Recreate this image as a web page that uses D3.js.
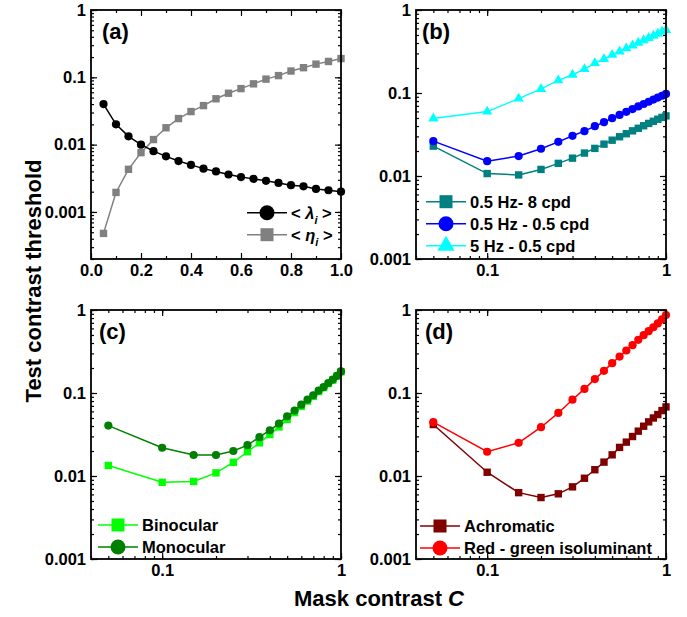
<!DOCTYPE html>
<html>
<head>
<meta charset="utf-8">
<script src="https://cdn.jsdelivr.net/npm/d3@7"></script>
<style>
  body { margin: 0; background: #fff; }
  svg text { font-family: "Liberation Sans", Arial, sans-serif; font-weight: bold; fill: #000; }
</style>
</head>
<body>
<div id="chart"></div>
<script>
// mask contrast C, shared by all four panels
const maskContrast = [0.05, 0.10, 0.15, 0.20, 0.25, 0.30, 0.35, 0.40, 0.45, 0.50,
  0.55, 0.60, 0.65, 0.70, 0.75, 0.80, 0.85, 0.90, 0.95, 1.00];

// (a)
const lambdaMean = [0.040, 0.020, 0.0133, 0.0100, 0.0080, 0.0067, 0.0057, 0.0050, 0.0044, 0.0040,
  0.0036, 0.0033, 0.0031, 0.0029, 0.0027, 0.0025, 0.0024, 0.0022, 0.0021, 0.0020];
const etaMean = [0.00048, 0.00195, 0.0043, 0.0076, 0.0119, 0.0178, 0.0244, 0.031, 0.038, 0.048,
  0.058, 0.068, 0.080, 0.094, 0.106, 0.124, 0.139, 0.157, 0.172, 0.190];

// (b)
const hz05cpd8 = [0.0229, 0.0107, 0.0103, 0.0120, 0.0142, 0.0164, 0.0189, 0.0215, 0.0242, 0.0270,
  0.0297, 0.0323, 0.0350, 0.0376, 0.0403, 0.0430, 0.0456, 0.0483, 0.0508, 0.0530];
const hz05cpd05 = [0.0263, 0.0151, 0.0174, 0.0213, 0.0258, 0.0305, 0.0347, 0.0398, 0.0445, 0.0497,
  0.0545, 0.0593, 0.0641, 0.0690, 0.0737, 0.0785, 0.0833, 0.0880, 0.0927, 0.0975];
const hz5cpd05 = [0.0492, 0.0597, 0.0855, 0.112, 0.142, 0.166, 0.194, 0.229, 0.256, 0.288,
  0.316, 0.345, 0.374, 0.403, 0.432, 0.460, 0.489, 0.518, 0.546, 0.575];

// (c)
const binocular = [0.0134, 0.0084, 0.0086, 0.0109, 0.0146, 0.0196, 0.0251, 0.0316, 0.0390, 0.0480,
  0.058, 0.069, 0.080, 0.091, 0.104, 0.116, 0.130, 0.143, 0.160, 0.180];
const monocular = [0.0405, 0.0219, 0.0179, 0.0179, 0.0200, 0.0235, 0.0294, 0.0356, 0.0428, 0.0525,
  0.0614, 0.0724, 0.083, 0.094, 0.107, 0.118, 0.132, 0.145, 0.161, 0.182];

// (d)
const achromatic = [0.0417, 0.0111, 0.0063, 0.0055, 0.0061, 0.0074, 0.0094, 0.0119, 0.0147, 0.0180,
  0.0221, 0.0256, 0.0299, 0.0347, 0.0398, 0.0449, 0.050, 0.055, 0.0614, 0.068];
const redGreen = [0.0445, 0.0196, 0.0251, 0.0387, 0.0575, 0.083, 0.112, 0.147, 0.185, 0.229,
  0.275, 0.325, 0.377, 0.437, 0.497, 0.555, 0.620, 0.690, 0.770, 0.870];

// tick labels
const yMajorTicks = [0.001, 0.01, 0.1, 1];
const xLogTicks = [0.1, 1];
const xLinTicks = [0, 0.2, 0.4, 0.6, 0.8, 1.0];

const W = 687, H = 617;
const svg = d3.select("#chart").append("svg").attr("width", W).attr("height", H);

const pw = 250, ph = 249;

const symbolFor = {
  circle: (big) => d3.symbol(d3.symbolCircle, big ? Math.PI * 7.5 * 7.5 : Math.PI * 4.1 * 4.1),
  square: (big) => d3.symbol(d3.symbolSquare, big ? 13 * 13 : 7.4 * 7.4),
  triangle: (big) => d3.symbol(d3.symbolTriangle, big ? 130 : 46)
};

const logFmt = d => (d >= 1 ? "1" : String(d));

function panel(cfg) {
  const g = svg.append("g").attr("transform", `translate(${cfg.left},${cfg.top})`);
  const x = cfg.x, y = cfg.y;

  // ticks, all four sides, pointing inward
  const minorX = cfg.xMinor, minorY = y.ticks();
  g.append("g").attr("transform", `translate(0,${ph})`)
    .call(d3.axisBottom(x).tickValues(minorX).tickSize(-3).tickSizeOuter(0).tickFormat(""));
  g.append("g").call(d3.axisTop(x).tickValues(minorX).tickSize(-3).tickSizeOuter(0).tickFormat(""));
  g.append("g").call(d3.axisLeft(y).tickValues(minorY).tickSize(-3).tickSizeOuter(0).tickFormat(""));
  g.append("g").attr("transform", `translate(${pw},0)`)
    .call(d3.axisRight(y).tickValues(minorY).tickSize(-3).tickSizeOuter(0).tickFormat(""));

  const xb = g.append("g").attr("transform", `translate(0,${ph})`)
    .call(d3.axisBottom(x).tickValues(cfg.xTicks).tickSize(-6).tickSizeOuter(0).tickPadding(5).tickFormat(cfg.xFormat));
  g.append("g").call(d3.axisTop(x).tickValues(cfg.xTicks).tickSize(-6).tickSizeOuter(0).tickFormat(""));
  const yl = g.append("g")
    .call(d3.axisLeft(y).tickValues(yMajorTicks).tickSize(-6).tickSizeOuter(0).tickPadding(5).tickFormat(logFmt));
  g.append("g").attr("transform", `translate(${pw},0)`)
    .call(d3.axisRight(y).tickValues(yMajorTicks).tickSize(-6).tickSizeOuter(0).tickFormat(""));

  g.selectAll(".domain").remove();
  g.selectAll(".tick line").attr("stroke", "#000").attr("stroke-width", 1.2);
  [xb, yl].forEach(a => a.selectAll("text").style("font-size", "16.5px").attr("fill", "#000"));

  // series
  const line = d3.line().x(d => x(d[0])).y(d => y(d[1]));
  cfg.series.forEach(s => {
    const pts = maskContrast.map((c, i) => [c, s.values[i]]);
    g.append("path").datum(pts).attr("fill", "none").attr("stroke", s.color)
      .attr("stroke-width", 1.5).attr("d", line);
    g.selectAll(null).data(pts).enter().append("path")
      .attr("d", symbolFor[s.shape](false))
      .attr("transform", d => `translate(${x(d[0])},${y(d[1])})`)
      .attr("fill", s.color);
  });

  // frame
  g.append("rect").attr("width", pw).attr("height", ph)
    .attr("fill", "none").attr("stroke", "#000").attr("stroke-width", 1.8);

  // panel label
  g.append("text").attr("x", cfg.labelX).attr("y", 29).style("font-size", "22px").text(cfg.label);

  // legend
  cfg.legendOrder.forEach((si, k) => {
    const s = cfg.series[si];
    const ly = cfg.legendY + k * 22;
    g.append("line").attr("x1", cfg.legendX).attr("x2", cfg.legendX + 40)
      .attr("y1", ly).attr("y2", ly).attr("stroke", s.color).attr("stroke-width", 1.5);
    g.append("path").attr("d", symbolFor[s.shape](true))
      .attr("transform", `translate(${cfg.legendX + 20},${ly})`).attr("fill", s.color);
    const t = g.append("text").attr("x", cfg.legendX + 44).attr("y", ly + 6).style("font-size", "16.5px");
    if (s.greek) {
      t.append("tspan").text("< ");
      t.append("tspan").style("font-style", "italic").text(s.greek);
      t.append("tspan").style("font-style", "italic").style("font-size", "11px").attr("dy", 5).text("i");
      t.append("tspan").attr("dy", -5).text(" >");
    } else {
      t.text(s.name);
    }
  });
}

const logX = () => d3.scaleLog().domain([0.04, 1]).range([0, pw]);
const logY = () => d3.scaleLog().domain([0.001, 1]).range([ph, 0]);
const logXMinor = logX().ticks();
const fmtLogX = d => (d >= 1 ? "1" : "0.1");

panel({
  left: 91, top: 10, label: "(a)", labelX: 11,
  x: d3.scaleLinear().domain([0, 1]).range([0, pw]),
  y: d3.scaleLog().domain([0.0002, 1]).range([ph, 0]),
  xTicks: xLinTicks, xMinor: d3.range(0.1, 1, 0.2), xFormat: d3.format(".1f"),
  series: [
    { greek: "η", color: "#808080", shape: "square", values: etaMean },
    { greek: "λ", color: "#000000", shape: "circle", values: lambdaMean }
  ],
  legendOrder: [1, 0], legendX: 156, legendY: 202.7
});

panel({
  left: 416, top: 10, label: "(b)", labelX: 6,
  x: logX(), y: logY(), xTicks: xLogTicks, xMinor: logXMinor, xFormat: fmtLogX,
  series: [
    { name: "0.5 Hz- 8 cpd", color: "#008080", shape: "square", values: hz05cpd8 },
    { name: "0.5 Hz - 0.5 cpd", color: "#0000ff", shape: "circle", values: hz05cpd05 },
    { name: "5 Hz - 0.5 cpd", color: "#00ffff", shape: "triangle", values: hz5cpd05 }
  ],
  legendOrder: [0, 1, 2], legendX: 10, legendY: 191.7
});

panel({
  left: 91, top: 310, label: "(c)", labelX: 8,
  x: logX(), y: logY(), xTicks: xLogTicks, xMinor: logXMinor, xFormat: fmtLogX,
  series: [
    { name: "Binocular", color: "#00ff00", shape: "square", values: binocular },
    { name: "Monocular", color: "#008000", shape: "circle", values: monocular }
  ],
  legendOrder: [0, 1], legendX: 7, legendY: 215
});

panel({
  left: 416, top: 310, label: "(d)", labelX: 9,
  x: logX(), y: logY(), xTicks: xLogTicks, xMinor: logXMinor, xFormat: fmtLogX,
  series: [
    { name: "Achromatic", color: "#800000", shape: "square", values: achromatic },
    { name: "Red - green isoluminant", color: "#ff0000", shape: "circle", values: redGreen }
  ],
  legendOrder: [0, 1], legendX: 4, legendY: 216
});

// axis titles
svg.append("text").attr("transform", "translate(41,281) rotate(-90)")
  .attr("text-anchor", "middle").style("font-size", "22px").text("Test contrast threshold");
const xt = svg.append("text").attr("x", 379).attr("y", 606)
  .attr("text-anchor", "middle").style("font-size", "22px");
xt.append("tspan").text("Mask contrast ");
xt.append("tspan").style("font-style", "italic").text("C");
</script>
</body>
</html>
